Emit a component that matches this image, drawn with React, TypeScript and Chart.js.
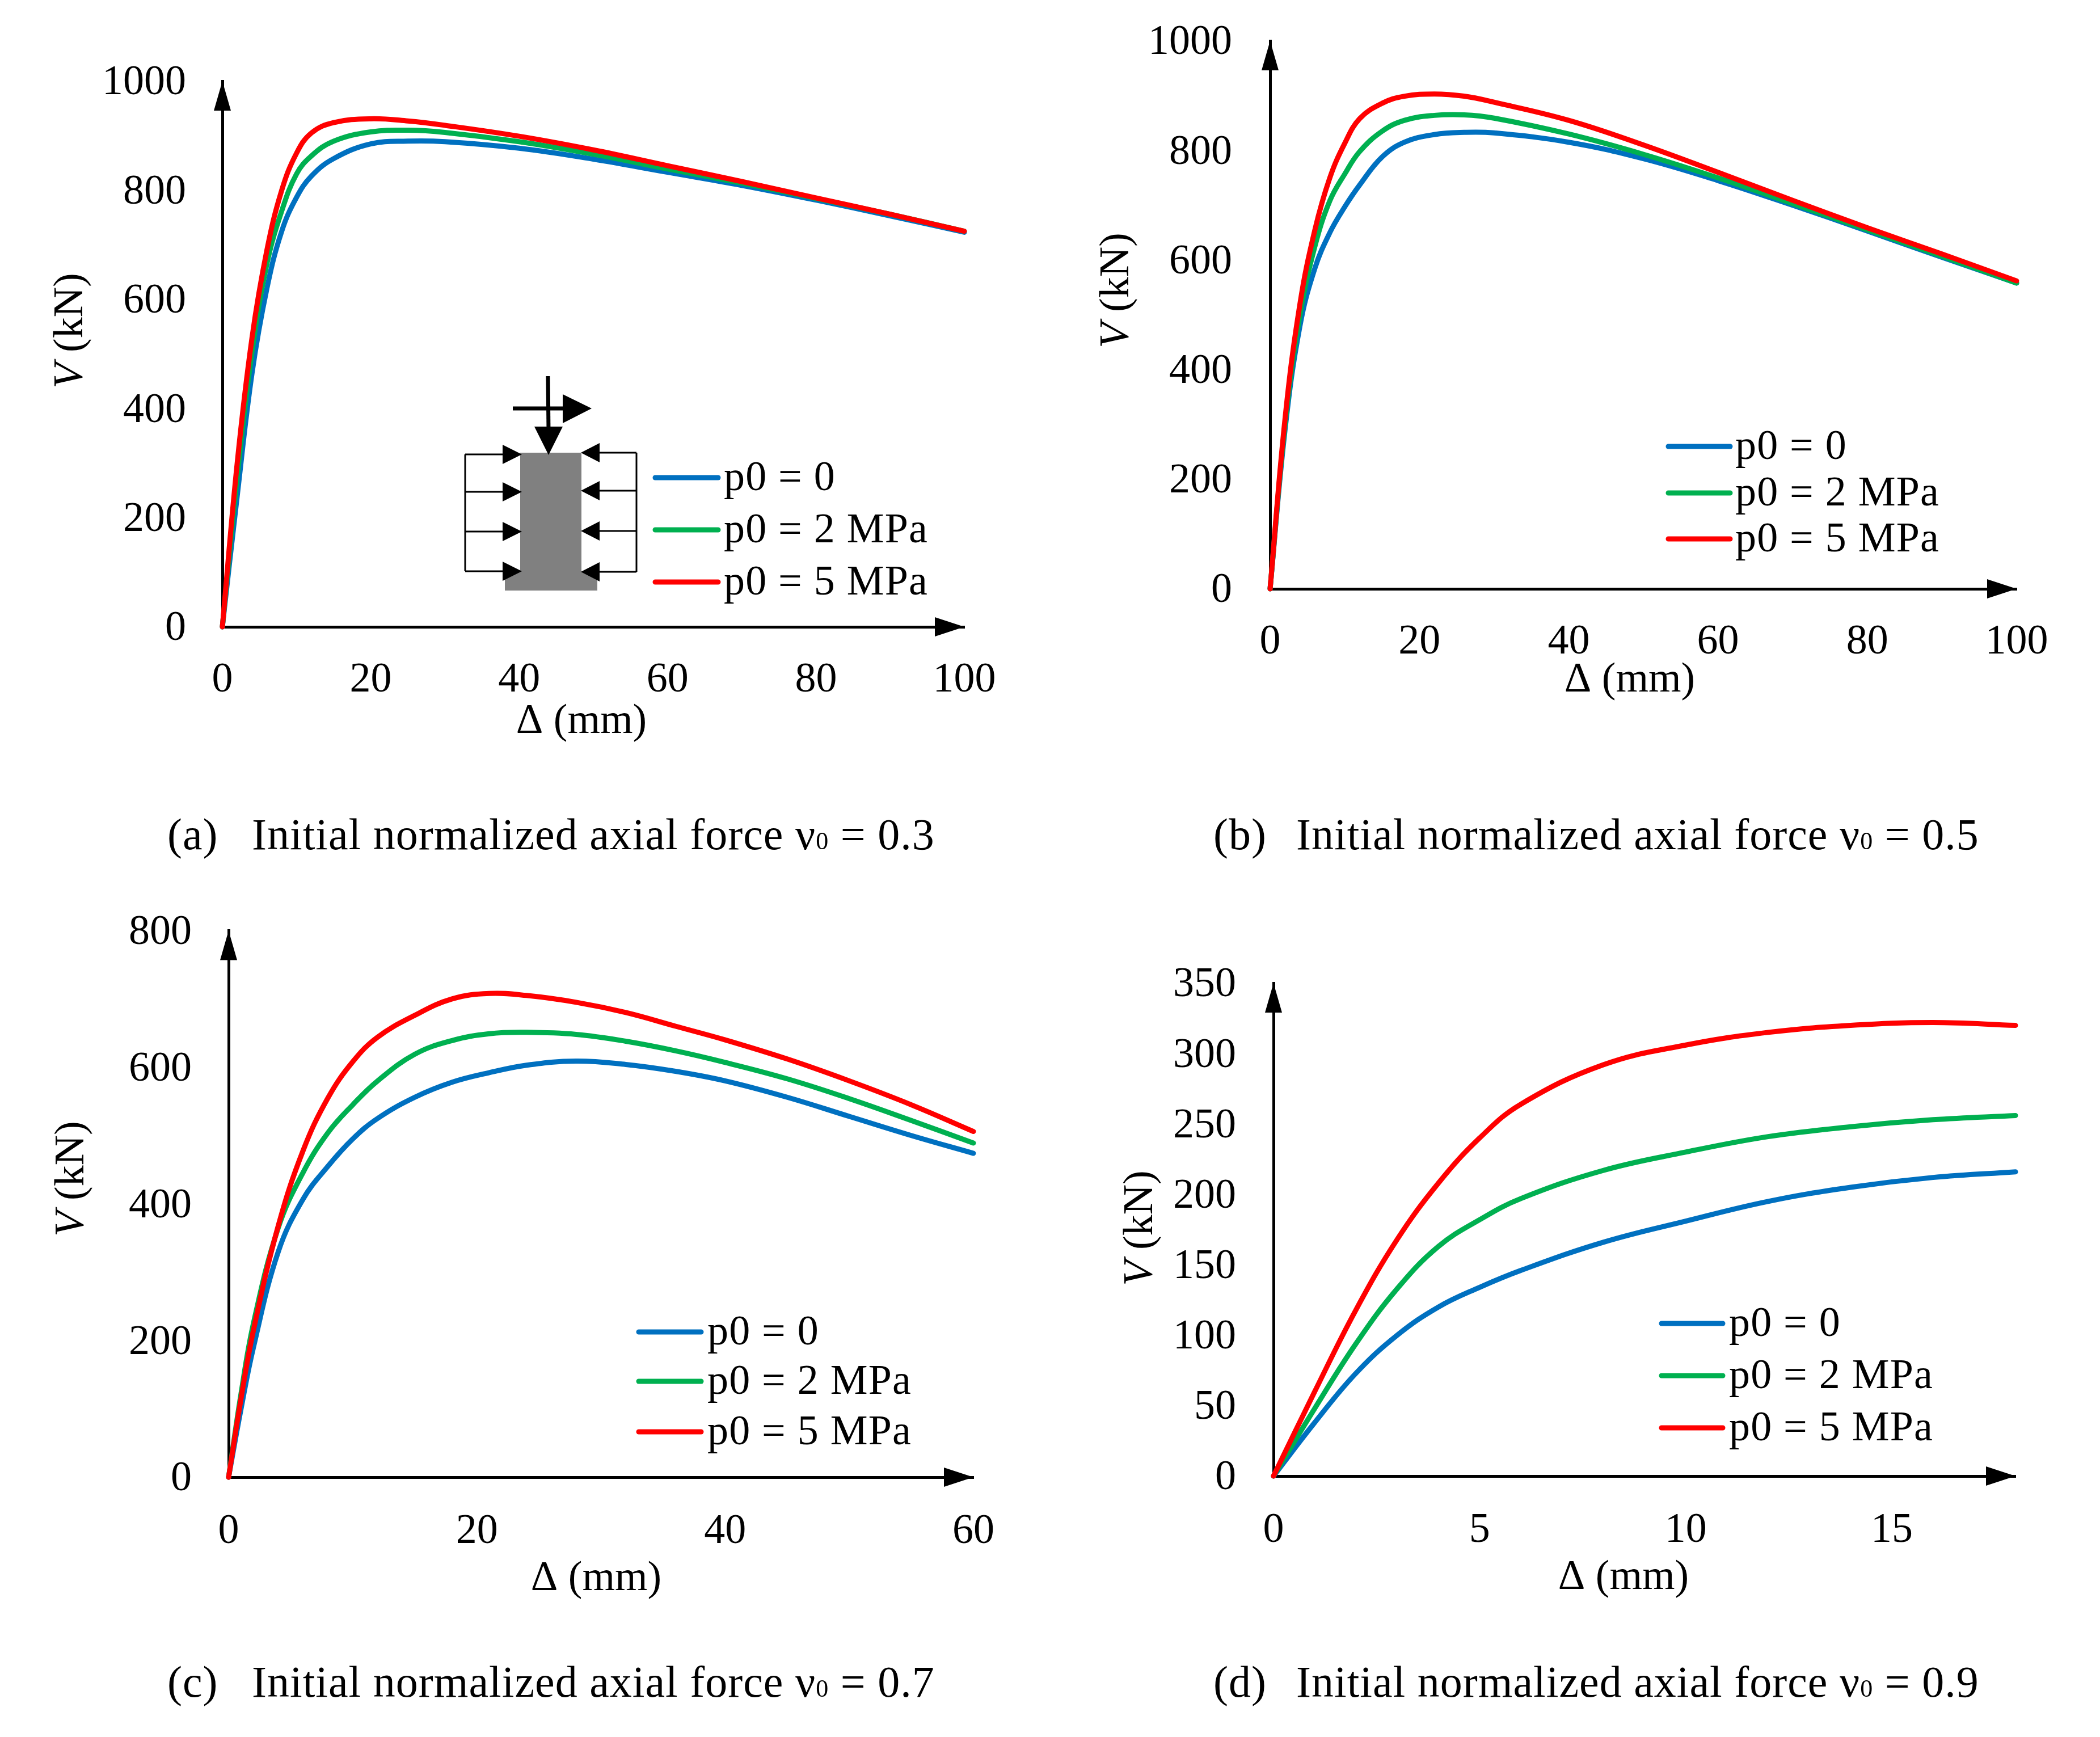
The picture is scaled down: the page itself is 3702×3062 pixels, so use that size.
import React, { useEffect, useRef } from "react";
import { Chart, registerables } from "chart.js";

Chart.register(...registerables);

const FONT = '"Liberation Serif"';
const BLUE = "#0070C0";
const GREEN = "#00B050";
const RED = "#FF0000";
const seriesLabels = ["p0 = 0", "p0 = 2 MPa", "p0 = 5 MPa"];

const xA = [0, 2, 4, 6, 8, 10, 12, 15, 20, 25, 30, 40, 50, 60, 70, 80, 90, 100];
const blueA = [0, 240, 465, 620, 725, 787, 826, 858, 885, 890, 889, 877, 857, 833, 809, 782, 753, 723];
const greenA = [0, 275, 505, 665, 762, 830, 863, 890, 907, 910, 906, 889, 866, 839, 813, 785, 756, 725];
const redA = [0, 300, 530, 690, 800, 868, 905, 924, 931, 927, 919, 899, 874, 845, 816, 786, 756, 725];

const xB = [0, 2, 4, 6, 8, 10, 12, 15, 18, 22, 26, 30, 40, 50, 60, 70, 80, 90, 100];
const blueB = [0, 290, 480, 585, 650, 697, 737, 788, 815, 829, 833, 832, 815, 785, 745, 700, 653, 605, 558];
const greenB = [0, 300, 500, 625, 708, 757, 798, 835, 855, 864, 865, 859, 830, 793, 750, 703, 655, 607, 558];
const redB = [0, 310, 520, 655, 750, 813, 858, 886, 899, 903, 899, 888, 855, 810, 760, 709, 659, 611, 562];

const xC = [0, 1, 2, 4, 6, 8, 10, 12, 15, 18, 21, 24, 28, 32, 36, 40, 45, 50, 55, 60];
const blueC = [0, 100, 190, 330, 407, 455, 495, 525, 556, 578, 592, 603, 609, 604, 594, 580, 556, 528, 500, 474];
const greenC = [0, 122, 225, 365, 446, 504, 545, 580, 619, 639, 649, 651, 648, 638, 624, 607, 583, 554, 522, 489];
const redC = [0, 115, 215, 368, 478, 555, 608, 644, 676, 700, 708, 705, 695, 680, 660, 640, 612, 580, 545, 506];

const xD = [0, 1, 2, 3, 4, 5, 6, 8, 10, 12, 14, 16, 18];
const blueD = [0, 38, 73, 100, 120, 134, 146, 166, 181, 195, 205, 212, 216];
const greenD = [0, 48, 94, 133, 163, 182, 197, 217, 230, 241, 248, 253, 256];
const redD = [0, 60, 118, 168, 208, 240, 264, 292, 306, 315, 320, 322, 320];

const pts = (xs: number[], ys: number[]) => xs.map((x, i) => ({ x, y: ys[i] }));

type Panel = {
  box: [number, number, number, number];
  area: [number, number, number, number];
  xs: number[];
  blue: number[];
  green: number[];
  red: number[];
  xMax: number;
  xStep: number;
  yMax: number;
  yStep: number;
  yLabelRight: number;
  xLabelPad: number;
  xTitle: [number, number];
  yTitle: [number, number];
  legend: { x0: number; x1: number; tx: number; ys: number[] };
};

const panels: Panel[] = [
  {
    box: [0, 0, 1851, 1400],
    area: [392, 143, 1700, 1105],
    xs: xA, blue: blueA, green: greenA, red: redA,
    xMax: 100, xStep: 20, yMax: 1000, yStep: 200,
    yLabelRight: 328, xLabelPad: 50,
    xTitle: [1025, 1270], yTitle: [123, 583],
    legend: { x0: 1155, x1: 1266, tx: 1276, ys: [842, 934, 1026] },
  },
  {
    box: [1851, -100, 1851, 1500],
    area: [2239, 72, 3555, 1038],
    xs: xB, blue: blueB, green: greenB, red: redB,
    xMax: 100, xStep: 20, yMax: 1000, yStep: 200,
    yLabelRight: 2172, xLabelPad: 50,
    xTitle: [2873, 1197], yTitle: [1967, 512],
    legend: { x0: 2941, x1: 3050, tx: 3059, ys: [787, 869, 950] },
  },
  {
    box: [0, 1531, 1851, 1400],
    area: [403, 1640, 1716, 2604],
    xs: xC, blue: blueC, green: greenC, red: redC,
    xMax: 60, xStep: 20, yMax: 800, yStep: 200,
    yLabelRight: 338, xLabelPad: 52,
    xTitle: [1051, 2781], yTitle: [125, 2078],
    legend: { x0: 1126, x1: 1236, tx: 1247, ys: [2348, 2435, 2524] },
  },
  {
    box: [1851, 1531, 1851, 1400],
    area: [2245, 1733, 3553, 2602],
    xs: xD, blue: blueD, green: greenD, red: redD,
    xMax: 18, xStep: 5, yMax: 350, yStep: 50,
    yLabelRight: 2179, xLabelPad: 52,
    xTitle: [2862, 2779], yTitle: [2009, 2165],
    legend: { x0: 2929, x1: 3037, tx: 3048, ys: [2333, 2425, 2517] },
  },
];

const captions = [
  { tag: "(a)", text: "Initial normalized axial force ν", end: "= 0.3", x: 295, tx: 444, y: 1471 },
  { tag: "(b)", text: "Initial normalized axial force ν", end: "= 0.5", x: 2139, tx: 2285, y: 1471 },
  { tag: "(c)", text: "Initial normalized axial force ν", end: "= 0.7", x: 295, tx: 444, y: 2965 },
  { tag: "(d)", text: "Initial normalized axial force ν", end: "= 0.9", x: 2139, tx: 2285, y: 2965 },
];

const decor = {
  id: "decor",
  afterDatasetsDraw(chart: any, _a: any, o: any) {
    const p: Panel = o.panel;
    const { ctx, chartArea: c } = chart;
    const ox = p.box[0];
    const oy = p.box[1];
    ctx.save();
    ctx.fillStyle = "#000";
    // arrow heads
    ctx.beginPath();
    ctx.moveTo(c.left, c.top);
    ctx.lineTo(c.left - 15, c.top + 52);
    ctx.lineTo(c.left + 15, c.top + 52);
    ctx.closePath();
    ctx.fill();
    ctx.beginPath();
    ctx.moveTo(c.right, c.bottom);
    ctx.lineTo(c.right - 52, c.bottom - 17);
    ctx.lineTo(c.right - 52, c.bottom + 17);
    ctx.closePath();
    ctx.fill();
    // axis titles
    ctx.textBaseline = "middle";
    ctx.textAlign = "center";
    ctx.font = `74px ${FONT}`;
    ctx.fillText("Δ (mm)", p.xTitle[0] - ox, p.xTitle[1] - oy + 3);
    ctx.save();
    ctx.translate(p.yTitle[0] - ox + 3, p.yTitle[1] - oy);
    ctx.rotate(-Math.PI / 2);
    ctx.textAlign = "left";
    ctx.font = `italic 74px ${FONT}`;
    const vw = ctx.measureText("V").width;
    ctx.font = `74px ${FONT}`;
    const rest = " (kN)";
    const rw = ctx.measureText(rest).width;
    const start = -(vw + rw) / 2;
    ctx.font = `italic 74px ${FONT}`;
    ctx.fillText("V", start, 0);
    ctx.font = `74px ${FONT}`;
    ctx.fillText(rest, start + vw, 0);
    ctx.restore();
    // legend
    const colors = [BLUE, GREEN, RED];
    ctx.textAlign = "left";
    ctx.letterSpacing = "1.2px";
    p.legend.ys.forEach((y, i) => {
      ctx.strokeStyle = colors[i];
      ctx.lineWidth = 9;
      ctx.lineCap = "round";
      ctx.beginPath();
      ctx.moveTo(p.legend.x0 - ox, y - oy);
      ctx.lineTo(p.legend.x1 - ox, y - oy);
      ctx.stroke();
      ctx.fillText(seriesLabels[i], p.legend.tx - ox, y - oy + 3);
    });
    ctx.restore();
  },
};

function ChartPanel({ panel }: { panel: Panel }) {
  const ref = useRef<HTMLCanvasElement>(null);
  useEffect(() => {
    const [bx, by, bw, bh] = panel.box;
    const [l, t, r, b] = panel.area;
    const line = (label: string, xs: number[], ys: number[], color: string, order: number) => ({
      label,
      data: pts(xs, ys),
      borderColor: color,
      backgroundColor: color,
      borderWidth: 9,
      pointRadius: 0,
      tension: 0.4,
      borderCapStyle: "round" as const,
      borderJoinStyle: "round" as const,
      clip: false as any,
      order,
    });
    const chart = new Chart(ref.current!, {
      type: "line",
      data: {
        datasets: [
          line(seriesLabels[0], panel.xs, panel.blue, BLUE, 3),
          line(seriesLabels[1], panel.xs, panel.green, GREEN, 2),
          line(seriesLabels[2], panel.xs, panel.red, RED, 1),
        ],
      },
      plugins: [decor as any],
      options: {
        animation: false,
        responsive: false,
        layout: {
          autoPadding: false,
          padding: { left: 0, top: t - by, right: bx + bw - r, bottom: 0 },
        },
        plugins: {
          legend: { display: false },
          tooltip: { enabled: false },
          decor: { panel },
        } as any,
        scales: {
          x: {
            type: "linear",
            min: 0,
            max: panel.xMax,
            grid: { display: false, drawTicks: false },
            border: { display: true, color: "#000", width: 5 },
            ticks: {
              stepSize: panel.xStep,
              includeBounds: false,
              maxRotation: 0,
              autoSkip: false,
              padding: panel.xLabelPad,
              color: "#000",
              font: { family: FONT, size: 74 },
              callback: (v: any) => String(v),
            },
            afterFit(s: any) {
              s.height = by + bh - b;
            },
          },
          y: {
            type: "linear",
            min: 0,
            max: panel.yMax,
            grid: { display: false, drawTicks: false },
            border: { display: true, color: "#000", width: 5 },
            ticks: {
              stepSize: panel.yStep,
              autoSkip: false,
              padding: l - panel.yLabelRight,
              labelOffset: 4,
              color: "#000",
              font: { family: FONT, size: 74 },
              callback: (v: any) => String(v),
            },
            afterFit(s: any) {
              s.width = l - bx;
            },
          },
        },
      },
    });
    return () => chart.destroy();
  }, [panel]);
  const [x, y, w, h] = panel.box;
  return (
    <canvas
      ref={ref}
      width={w}
      height={h}
      style={{ position: "absolute", left: x, top: y, width: w, height: h }}
    />
  );
}

const leftArrowYs = [801, 867, 937, 1007];
const rightArrowYs = [798, 865, 936, 1008];

function Inset() {
  return (
    <svg
      width={3702}
      height={3062}
      style={{ position: "absolute", left: 0, top: 0, pointerEvents: "none" }}
    >
      <rect x={917} y={798} width={108} height={243} fill="#808080" />
      <rect x={890} y={1008} width={163} height={33} fill="#808080" />
      <path
        d={`M820 ${leftArrowYs[0]}V${leftArrowYs[3]} M1122 ${rightArrowYs[0]}V${rightArrowYs[3]}`}
        stroke="#000"
        strokeWidth={3}
        fill="none"
      />
      {leftArrowYs.map((y) => (
        <g key={y}>
          <line x1={820} x2={890} y1={y} y2={y} stroke="#000" strokeWidth={3} />
          <polygon points={`886,${y - 17} 920,${y} 886,${y + 17}`} fill="#000" />
        </g>
      ))}
      {rightArrowYs.map((y) => (
        <g key={y}>
          <line x1={1053} x2={1122} y1={y} y2={y} stroke="#000" strokeWidth={3} />
          <polygon points={`1057,${y - 17} 1024,${y} 1057,${y + 17}`} fill="#000" />
        </g>
      ))}
      <line x1={966} x2={967} y1={663} y2={760} stroke="#000" strokeWidth={7} />
      <polygon points="942,752 992,752 967,802" fill="#000" />
      <line x1={904} x2={1000} y1={720} y2={720} stroke="#000" strokeWidth={7} />
      <polygon points="992,695 1043,720 992,746" fill="#000" />
    </svg>
  );
}

export default function App() {
  const capStyle: React.CSSProperties = {
    position: "absolute",
    fontFamily: FONT,
    fontSize: 78,
    lineHeight: "84px",
    whiteSpace: "nowrap",
    color: "#000",
  };
  return (
    <div
      style={{
        position: "absolute",
        left: 0,
        top: 0,
        width: 3702,
        height: 3062,
        background: "#fff",
        overflow: "hidden",
      }}
    >
      {panels.map((p, i) => (
        <ChartPanel key={i} panel={p} />
      ))}
      <Inset />
      {captions.map((c) => (
        <React.Fragment key={c.tag}>
          <div style={{ ...capStyle, left: c.x, top: c.y - 42, letterSpacing: 1 }}>{c.tag}</div>
          <div style={{ ...capStyle, left: c.tx, top: c.y - 42, letterSpacing: 1 }}>
            {c.text}
            <span style={{ fontSize: 44 }}>0</span> {c.end}
          </div>
        </React.Fragment>
      ))}
    </div>
  );
}
